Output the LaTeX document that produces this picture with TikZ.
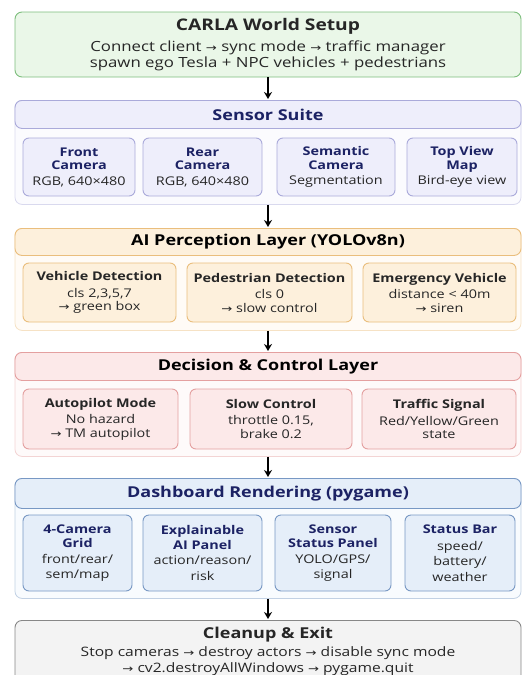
\documentclass[tikz,border=0pt]{standalone}
\usepackage{fontspec}
\setmainfont[FakeStretch=1.2]{Open Sans}
\newfontfamily\arrowfont[FakeStretch=1.25]{DejaVu Sans}
\usetikzlibrary{arrows.meta}
\definecolor{setupline}{RGB}{125,190,125}
\definecolor{setupfill}{RGB}{234,247,232}
\definecolor{sensline}{RGB}{170,170,218}
\definecolor{sensfill}{RGB}{238,238,251}
\definecolor{ailine}{RGB}{234,190,125}
\definecolor{aifill}{RGB}{253,240,220}
\definecolor{decline}{RGB}{228,160,160}
\definecolor{decfill}{RGB}{252,233,233}
\definecolor{dashline}{RGB}{120,152,196}
\definecolor{dashfill}{RGB}{229,238,249}
\definecolor{exitline}{RGB}{135,135,135}
\definecolor{exitfill}{RGB}{243,243,243}
\definecolor{navy}{RGB}{28,34,100}
\newcommand{\ra}{{\arrowfont\fontsize{10.5}{10}\selectfont →}}
\newcommand{\hd}[1]{{\fontsize{15}{17}\selectfont\bfseries #1}}
\newcommand{\ct}[1]{{\fontsize{12}{15}\selectfont\bfseries #1}}
\newcommand{\nt}[1]{\ct{\textcolor{navy}{#1}}}

\begin{document}
\begin{tikzpicture}[x=1pt, y=-1pt, >=Stealth,
    block/.style={draw=#1line, fill=#1fill, rounded corners=7pt, line width=0.9pt,
                  minimum width=506pt, align=center, text=black!85},
    band/.style={draw=#1line, fill=#1fill, rounded corners=7pt, line width=0.9pt,
                 minimum width=506pt, minimum height=28pt, anchor=north},
    frame/.style={draw=#1line!45, fill=#1fill!25, rounded corners=7pt, line width=0.8pt,
                  minimum width=506pt, anchor=north},
    cell/.style={draw=#1line, fill=#1fill, rounded corners=6pt, line width=0.9pt,
                 align=center, inner sep=0pt, text=black!85,
                 font=\fontsize{12}{15.5}\selectfont},
    flow/.style={-{Stealth[length=7pt, width=8pt]}, line width=1.4pt, shorten >=1pt}
  ]
  \useasboundingbox (0,0) rectangle (523,675);

  % world setup
  \node[block=setup, minimum height=65pt, font=\fontsize{14}{16}\selectfont] (setup) at (268,44.5)
    {{\fontsize{16}{17}\selectfont\bfseries CARLA World Setup}\\[5pt]
     Connect client \ra\ sync mode \ra\ traffic manager\\
     spawn ego Tesla + NPC vehicles + pedestrians};

  % sensor suite
  \node[frame=sens, minimum height=104pt] (sensFrame) at (268,100) {};
  \node[band=sens, text=navy] (sensHead) at (268,100) {\hd{Sensor Suite}};
  \node[cell=sens, minimum width=112pt, minimum height=58pt] (front) at (79,167)
    {\nt{Front}\\[-2pt]\nt{Camera}\\RGB, 640×480};
  \node[cell=sens, minimum width=119pt, minimum height=58pt] (rear) at (202.5,167)
    {\nt{Rear}\\[-2pt]\nt{Camera}\\RGB, 640×480};
  \node[cell=sens, minimum width=118pt, minimum height=58pt] (sem) at (336,167)
    {\nt{Semantic}\\[-2pt]\nt{Camera}\\Segmentation};
  \node[cell=sens, minimum width=110pt, minimum height=58pt] (topmap) at (462,167)
    {\nt{Top View}\\[-2pt]\nt{Map}\\Bird-eye view};

  % perception
  \node[frame=ai, minimum height=102pt] (aiFrame) at (268,228) {};
  \node[band=ai, minimum height=27pt] (aiHead) at (268,228) {\hd{AI Perception Layer (YOLOv8n)}};
  \node[cell=ai, minimum width=153pt, minimum height=59pt] (vehdet) at (99.5,292.5)
    {\ct{Vehicle Detection}\\[1pt]cls 2,3,5,7\\[-2pt]\ra\ green box};
  \node[cell=ai, minimum width=165pt, minimum height=59pt] (peddet) at (269.5,292.5)
    {\ct{Pedestrian Detection}\\[1pt]cls 0\\[-2pt]\ra\ slow control};
  \node[cell=ai, minimum width=153pt, minimum height=59pt] (emerg) at (439.5,292.5)
    {\ct{Emergency Vehicle}\\[1pt]distance < 40m\\[-2pt]\ra\ siren};

  % decision
  \node[frame=dec, minimum height=104pt] (decFrame) at (268,352) {};
  \node[band=dec] (decHead) at (268,352) {\hd{Decision \& Control Layer}};
  \node[cell=dec, minimum width=155pt, minimum height=60pt] (autopilot) at (100.5,419)
    {\ct{Autopilot Mode}\\[1pt]No hazard\\[-2pt]\ra\ TM autopilot};
  \node[cell=dec, minimum width=162pt, minimum height=60pt] (slow) at (271,419)
    {\ct{Slow Control}\\[1pt]throttle 0.15,\\[-2pt]brake 0.2};
  \node[cell=dec, minimum width=154pt, minimum height=60pt] (signal) at (439,419)
    {\ct{Traffic Signal}\\[1pt]Red/Yellow/Green\\[-2pt]state};

  % dashboard
  \node[frame=dash, minimum height=120pt] (dashFrame) at (268,478) {};
  \node[band=dash, minimum height=30pt, text=navy] (dashHead) at (268,478) {\hd{Dashboard Rendering (pygame)}};
  \node[cell=dash, minimum width=109pt, minimum height=76pt] (grid) at (77.5,553)
    {\nt{4-Camera}\\[-1pt]\nt{Grid}\\front/rear/\\sem/map};
  \node[cell=dash, minimum width=119pt, minimum height=76pt] (xai) at (202.5,553)
    {\nt{Explainable}\\[-1pt]\nt{AI Panel}\\action/reason/\\risk};
  \node[cell=dash, minimum width=116pt, minimum height=76pt] (sensPanel) at (333,553)
    {\nt{Sensor}\\[-1pt]\nt{Status Panel}\\YOLO/GPS/\\signal};
  \node[cell=dash, minimum width=110pt, minimum height=76pt] (statusBar) at (460,553)
    {\nt{Status Bar}\\[1pt]speed/\\battery/\\weather};

  % cleanup
  \node[block=exit, minimum height=62pt, anchor=north, font=\fontsize{13}{16}\selectfont] (cleanup) at (268,620)
    {\hd{Cleanup \& Exit}\\[2pt]
     Stop cameras \ra\ destroy actors \ra\ disable sync mode\\
     \ra\ cv2.destroyAllWindows \ra\ pygame.quit};

  % pipeline arrows
  \draw[flow] (setup) -- (sensHead);
  \draw[flow] (sensFrame) -- (aiHead);
  \draw[flow] (aiFrame) -- (decHead);
  \draw[flow] (decFrame) -- (dashHead);
  \draw[flow] (dashFrame) -- (cleanup);
\end{tikzpicture}
\end{document}
